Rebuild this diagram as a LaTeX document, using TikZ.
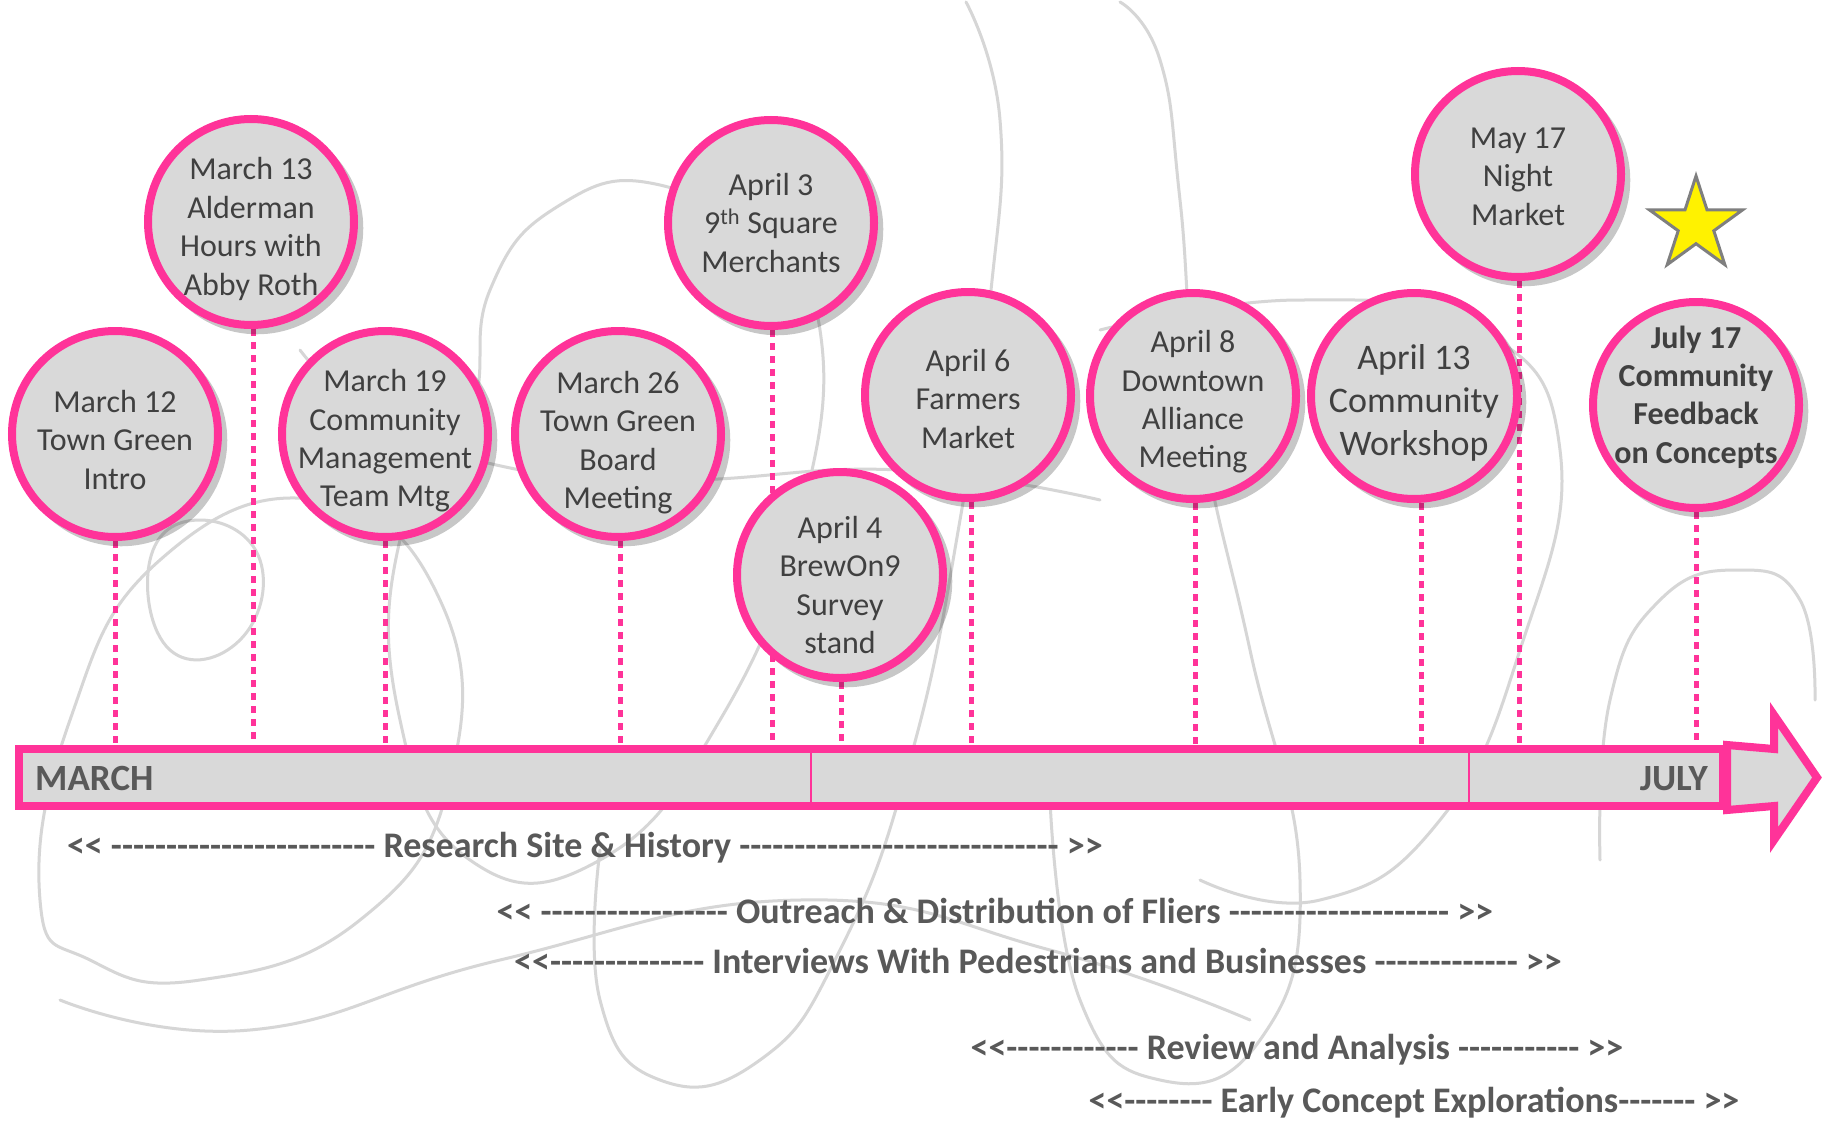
\documentclass[tikz,border=0pt]{standalone}
\usepackage{fontspec}
\setmainfont{Carlito}[Ligatures=TeXOff]
\usetikzlibrary{shapes.geometric,shadows,backgrounds}

\definecolor{hotpink}{RGB}{255,51,153}
\definecolor{bubblegray}{RGB}{217,217,217}
\definecolor{inkgray}{RGB}{64,64,64}
\definecolor{labelgray}{RGB}{89,89,89}
\definecolor{scribble}{RGB}{214,214,214}
\definecolor{starline}{RGB}{127,127,127}

\begin{document}
\begin{tikzpicture}[x=1pt,y=-1pt,
    event/.style={circle, draw=hotpink, line width=8pt, fill=bubblegray,
        minimum size=206pt, inner sep=0pt,
        drop shadow={shadow xshift=6pt, shadow yshift=-6pt, shadow scale=1.03,
            fill=black, opacity=0.22}},
    evtext/.style={align=center, text=inkgray, inner sep=0pt,
        font=\fontsize{32}{38.4}\selectfont},
    dropline/.style={draw=hotpink, line width=5pt, dash pattern=on 7pt off 6pt},
    divider/.style={draw=hotpink, line width=2pt},
    phase/.style={text=labelgray, font=\bfseries\fontsize{36}{40}\selectfont, inner sep=0pt},
    month/.style={text=labelgray, font=\bfseries\fontsize{37}{40}\selectfont, inner sep=0pt},
    doodle/.style={draw=scribble, line width=3pt, line cap=round}]

    \useasboundingbox (0,0) rectangle (1825,1124);

    \node[event, label={[evtext, yshift=-6pt]center:{March 12\\Town Green\\Intro}}]
        (m12) at (115,434) {};
    \node[event, label={[evtext, yshift=-7pt]center:{March 13\\Alderman\\Hours with\\Abby Roth}}]
        (m13) at (251,222) {};
    \node[event, label={[evtext, yshift=-7pt]center:{March 19\\Community\\Management\\Team Mtg}}]
        (m19) at (385,434) {};
    \node[event, label={[evtext, yshift=-8.5pt]center:{March 26\\Town Green\\Board\\Meeting}}]
        (m26) at (618,434) {};
    \node[event, label={[evtext]center:{April 3\\9\textsuperscript{th} Square\\Merchants}}]
        (a3) at (771,223) {};
    \node[event, label={[evtext, yshift=-10pt]center:{April 4\\BrewOn9\\Survey\\stand}}]
        (a4) at (840,575) {};
    \node[event, label={[evtext, yshift=-4pt]center:{April 6\\Farmers\\Market}}]
        (a6) at (968,395) {};
    \node[event, label={[evtext, yshift=-6pt]center:{April 8\\Downtown\\Alliance\\Meeting}}]
        (a8) at (1193,396) {};
    \node[event, label={[evtext, yshift=-7pt, font=\fontsize{36}{43}\selectfont]center:{April 13\\Community\\Workshop}}]
        (a13) at (1414,396) {};
    \node[event, label={[evtext, yshift=-2.5pt]center:{May 17\\Night\\Market}}]
        (my17) at (1518,174) {};
    \node[event, label={[evtext, yshift=8pt, font=\bfseries\fontsize{32}{38.4}\selectfont]center:{July 17\\Community\\Feedback\\on Concepts}}]
        (j17) at (1696,405) {};

    \node[star, star points=5, star point ratio=2.618, minimum size=98pt, inner sep=0pt,
        draw=starline, line width=3pt, fill=yellow] (goal) at (1696,225) {};

    \node[draw=hotpink, line width=8pt, fill=bubblegray, minimum width=1704pt,
        minimum height=57pt, inner sep=0pt] (bar) at (871,777.5) {};
    \coordinate (d1) at (811,777.5);
    \coordinate (d2) at (1469,777.5);
    \draw[divider] (d1 |- bar.north) -- (d1 |- bar.south);
    \draw[divider] (d2 |- bar.north) -- (d2 |- bar.south);
    \draw[draw=hotpink, line width=8pt, fill=bubblegray]
        (bar.north east) -- (1774,749) -- (1774,715) -- (1817,777.5)
        -- (1774,840) -- (1774,806) -- (bar.south east) -- cycle;

    \node[month, anchor=base west] (march) at (35,790) {MARCH};
    \node[month, anchor=base east] (july) at (1708,790) {JULY};

    \node[phase] (research) at (585,848)
        {<< ------------------------ Research Site \& History ----------------------------- >>};
    \node[phase] (outreach) at (995,911)
        {<< ----------------- Outreach \& Distribution of Fliers -------------------- >>};
    \node[phase] (interviews) at (1038,961)
        {<<-------------- Interviews With Pedestrians and Businesses ------------- >>};
    \node[phase] (review) at (1297,1050)
        {<<------------ Review and Analysis ----------- >>};
    \node[phase] (concepts) at (1414,1103)
        {<<-------- Early Concept Explorations------- >>};

    \begin{pgfonlayer}{background}
        \fill[white] (0,0) rectangle (1825,1124);
        \draw[doodle] plot[smooth, tension=0.8] coordinates
            {(1120,2) (1160,60) (1180,200) (1200,420) (1250,650) (1300,880) (1260,1040) (1160,1080) (1080,1000) (1050,800)};
        \draw[doodle] plot[smooth, tension=0.8] coordinates
            {(966,2) (1000,120) (990,300) (960,520) (910,760) (840,950) (760,1060) (660,1080) (600,1000) (600,850)};
        \draw[doodle] plot[smooth cycle, tension=0.8] coordinates
            {(470,420) (490,290) (560,205) (660,185) (760,250) (820,330) (800,520) (720,720) (600,860) (470,860) (400,720) (400,540)};
        \draw[doodle] plot[smooth cycle, tension=0.8] coordinates
            {(40,900) (70,720) (160,560) (320,500) (440,600) (450,780) (360,920) (200,980) (90,960)};
        \draw[doodle] plot[smooth cycle, tension=0.8] coordinates
            {(150,560) (200,520) (260,560) (240,640) (170,650)};
        \draw[doodle] plot[smooth, tension=0.8] coordinates
            {(1600,860) (1610,700) (1660,600) (1740,570) (1800,600) (1815,700)};
        \draw[doodle] plot[smooth, tension=0.8] coordinates
            {(1100,330) (1300,300) (1480,330) (1560,450) (1520,650) (1440,820) (1320,900) (1200,880)};
        \draw[doodle] plot[smooth, tension=0.8] coordinates
            {(60,1000) (250,1030) (500,960) (800,900) (1050,950) (1250,1020)};
        \draw[doodle] plot[smooth, tension=0.8] coordinates
            {(300,350) (380,420) (520,470) (680,480) (900,470) (1100,500)};
        \foreach \ev/\dx in {m12/0,m13/2,m19/0,m26/2,a3/1,a4/1,a6/3.5,a8/2,a13/7,my17/1,j17/0}
            \draw[dropline] ([xshift=\dx pt]\ev.south) -- ([xshift=\dx pt]\ev.south |- bar.north);
    \end{pgfonlayer}
\end{tikzpicture}
\end{document}
